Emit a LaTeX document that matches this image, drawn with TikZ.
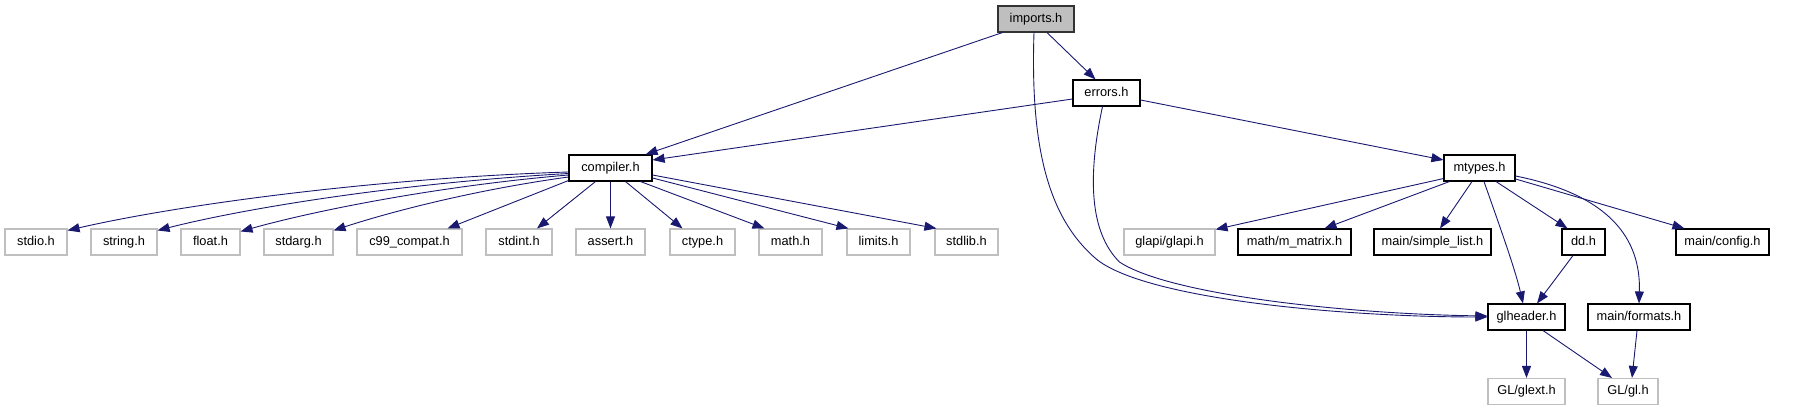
\documentclass[tikz,border=0pt]{standalone}
\usepackage{fontspec}
\setmainfont{Liberation Sans}
\usetikzlibrary{arrows.meta,calc}
\definecolor{edgec}{HTML}{191970}
\definecolor{extc}{HTML}{BFBFBF}
\begin{document}
\begin{tikzpicture}[x=1pt,y=-1pt,
  every node/.style={font=\fontsize{12.8}{14}\selectfont, inner sep=0pt, minimum height=26pt, text height=9.5pt, text depth=2.5pt},
  mainbox/.style={draw=black, line width=1.1pt, fill=white},
  extbox/.style={draw=extc, line width=1.1pt, fill=white},
  rootbox/.style={draw=black!80, line width=1.1pt, fill=extc},
  edge/.style={draw=edgec, line width=0.9pt, -{Triangle[length=12pt,width=9pt]}}]
\useasboundingbox (0,0) rectangle (1813,411);
% nodes
\node[rootbox, minimum width=76pt] (imports) at (1036,19) {imports.h};
\node[mainbox, minimum width=67pt] (errors) at (1106.5,93) {errors.h};
\node[mainbox, minimum width=83pt] (compiler) at (610.5,168) {compiler.h};
\node[mainbox, minimum width=71pt] (mtypes) at (1479.5,168) {mtypes.h};
\node[extbox, minimum width=62pt] (stdio) at (36,242) {stdio.h};
\node[extbox, minimum width=66pt] (string) at (124,242) {string.h};
\node[extbox, minimum width=59pt] (float) at (210.5,242) {float.h};
\node[extbox, minimum width=69pt] (stdarg) at (298.5,242) {stdarg.h};
\node[extbox, minimum width=105pt] (c99) at (409.5,242) {c99\_compat.h};
\node[extbox, minimum width=66pt] (stdint) at (519,242) {stdint.h};
\node[extbox, minimum width=69pt] (assert) at (610.5,242) {assert.h};
\node[extbox, minimum width=65pt] (ctype) at (702.5,242) {ctype.h};
\node[extbox, minimum width=63pt] (math) at (790.5,242) {math.h};
\node[extbox, minimum width=63pt] (limits) at (878.5,242) {limits.h};
\node[extbox, minimum width=63pt] (stdlib) at (966.5,242) {stdlib.h};
\node[extbox, minimum width=91pt] (glapi) at (1169.5,242) {glapi/glapi.h};
\node[mainbox, minimum width=113pt] (mmatrix) at (1294.5,242) {math/m\_matrix.h};
\node[mainbox, minimum width=117pt] (simplelist) at (1432.5,242) {main/simple\_list.h};
\node[mainbox, minimum width=43pt] (dd) at (1583.5,242) {dd.h};
\node[mainbox, minimum width=93pt] (config) at (1722.5,242) {main/config.h};
\node[mainbox, minimum width=77pt] (glheader) at (1526.5,317) {glheader.h};
\node[mainbox, minimum width=102pt] (formats) at (1639,317) {main/formats.h};
\node[extbox, minimum width=77pt] (glext) at (1526.5,391.5) {GL/glext.h};
\node[extbox, minimum width=60pt] (gl) at (1628,391.5) {GL/gl.h};
% edges from imports.h
\draw[edge] ($(imports.south west)+(5,0)$) -- ($(compiler.north east)+(-7,0)$);
\draw[edge] ($(imports.south)+(11,0)$) -- ($(errors.north)+(-11,0)$);
\draw[edge] ($(imports.south)+(-2,0)$) .. controls +(-4,118) and +(-48,-40) .. ($(glheader.west)+(-390,-57)$) .. controls +(52,40) and +(-140,0) .. (glheader.west);
% edges from errors.h
\draw[edge] ($(errors.west)+(0,6)$) -- ($(compiler.east)+(0,-8)$);
\draw[edge] ($(errors.east)+(0,7)$) -- ($(mtypes.west)+(0,-8)$);
\draw[edge] ($(errors.south)+(-4,0)$) .. controls +(-15,70) and +(-30,-30) .. ($(glheader.west)+(-368,-55)$) .. controls +(50,33) and +(-140,-2) .. ($(glheader.west)+(0,-1)$);
% edges from compiler.h
\draw[edge] ($(compiler.west)+(0,4)$) .. controls +(-190,6) and +(113,-26) .. ($(stdio.north east)+(0,2)$);
\draw[edge] ($(compiler.west)+(0,5.5)$) .. controls +(-160,9) and +(95,-24) .. ($(string.north east)+(0,2)$);
\draw[edge] ($(compiler.west)+(0,7)$) .. controls +(-130,11) and +(75,-21) .. ($(float.north east)+(0,3)$);
\draw[edge] ($(compiler.west)+(0,9)$) .. controls +(-95,13) and +(55,-18) .. ($(stdarg.north east)+(0,2)$);
\draw[edge] ($(compiler.south west)+(0,-1)$) -- ($(c99.north)+(38,0)$);
\draw[edge] ($(compiler.south)+(-15,0)$) -- ($(stdint.north)+(18,0)$);
\draw[edge] (compiler.south) -- (assert.north);
\draw[edge] ($(compiler.south)+(15,0)$) -- ($(ctype.north)+(-20,0)$);
\draw[edge] ($(compiler.south)+(30,0)$) -- ($(math.north)+(-26,0)$);
\draw[edge] ($(compiler.east)+(0,10)$) -- ($(limits.north west)+(2,0)$);
\draw[edge] ($(compiler.east)+(0,7)$) -- ($(stdlib.north west)+(2,0)$);
% edges from mtypes.h
\draw[edge] ($(mtypes.south west)+(0,-3)$) -- ($(glapi.north east)+(0,1)$);
\draw[edge] ($(mtypes.south west)+(6,0)$) -- ($(mmatrix.north)+(30,0)$);
\draw[edge] ($(mtypes.south)+(-7.5,0)$) -- ($(simplelist.north)+(7.5,0)$);
\draw[edge] ($(mtypes.south)+(4.5,0)$) .. controls +(14,40) and +(-8,-35) .. ($(glheader.north)+(-3.5,0)$);
\draw[edge] ($(mtypes.south)+(16.5,0)$) -- ($(dd.north)+(-16,0)$);
\draw[edge] ($(mtypes.east)+(0,8)$) .. controls +(95,19) and +(2,-64) .. (formats.north);
\draw[edge] ($(mtypes.east)+(0,11)$) -- ($(config.north west)+(9,0)$);
% lower edges
\draw[edge] ($(dd.south)+(-10.5,0)$) -- ($(glheader.north)+(10.5,0)$);
\draw[edge] (glheader.south) -- (glext.north);
\draw[edge] ($(glheader.south)+(16.5,0)$) -- ($(gl.north)+(-16,0)$);
\draw[edge] ($(formats.south)+(-2,0)$) -- ($(gl.north)+(4,0)$);
\end{tikzpicture}
\end{document}
